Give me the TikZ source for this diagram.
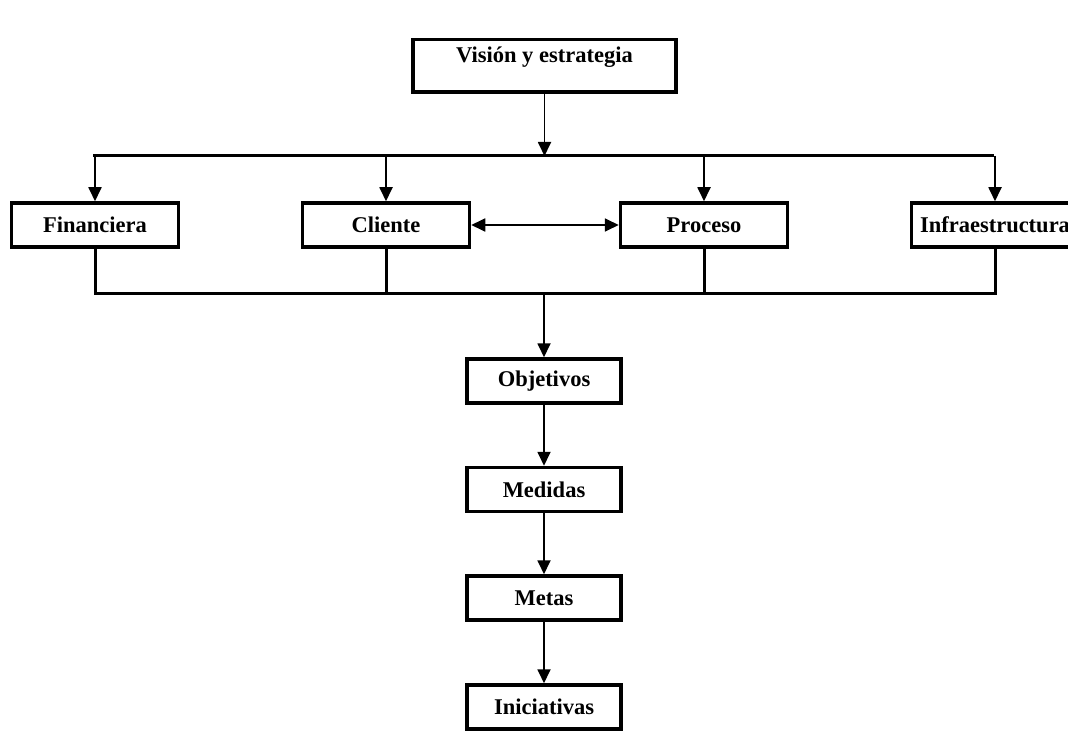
\documentclass[tikz,border=0pt]{standalone}
\usepackage{fontspec}
\setmainfont{Liberation Serif}
\usetikzlibrary{arrows.meta,positioning}

\tikzset{
  caja/.style={draw, line width=3.5pt, minimum width=167pt, minimum height=44pt,
    inner sep=0pt, font=\fontsize{22.5}{26}\selectfont\bfseries},
  bus/.style={line width=3pt},
  flecha/.style={line width=1.8pt, -{Triangle[width=13pt,length=14pt]}},
  dobleflecha/.style={line width=1.8pt,
    {Triangle[width=13pt,length=14pt]}-{Triangle[width=13pt,length=14pt]}},
}

\begin{document}
\begin{tikzpicture}[x=1pt,y=-1pt]
  \clip[use as bounding box] (0,0) rectangle (1068,754);
  % vision
  \node[caja, minimum width=263pt, minimum height=52.5pt, text height=22.6pt,
    text depth=29.9pt, anchor=north] (vis) at (544.5,38) {Visión y estrategia};
  % perspectivas
  \node[caja] (fin) at (95,225) {Financiera};
  \node[caja] (cli) at (386,225) {Cliente};
  \node[caja] (pro) at (704,225) {Proceso};
  \node[caja] (inf) at (995,225) {Infraestructura};
  \coordinate (al) at (93,156);
  \coordinate (ar) at (994,156);
  \draw[bus] (al) -- (ar);
  \draw[flecha] (vis.south) -- (vis.south |- al);
  \foreach \n in {fin,cli,pro,inf} {
    \draw[flecha] (\n.north |- al) -- (\n.north);
  }
  \draw[dobleflecha] (cli.east) -- (pro.west);
  \coordinate (bl) at (95,293);
  \draw[bus] (fin.south) -- (fin.south |- bl) -- (inf.south |- bl) -- (inf.south);
  \draw[bus] (cli.south) -- (cli.south |- bl);
  \draw[bus] (pro.south) -- (pro.south |- bl);
  % cadena
  \node[caja, minimum width=154pt] (obj) at (544,381) {Objetivos};
  \node[caja, minimum width=154pt] (med) at (544,489.5) {Medidas};
  \node[caja, minimum width=154pt] (met) at (544,598) {Metas};
  \node[caja, minimum width=154pt] (ini) at (544,707) {Iniciativas};
  \draw[flecha] (obj.north |- bl) -- (obj.north);
  \draw[flecha] (obj) -- (med);
  \draw[flecha] (med) -- (met);
  \draw[flecha] (met) -- (ini);
\end{tikzpicture}
\end{document}
